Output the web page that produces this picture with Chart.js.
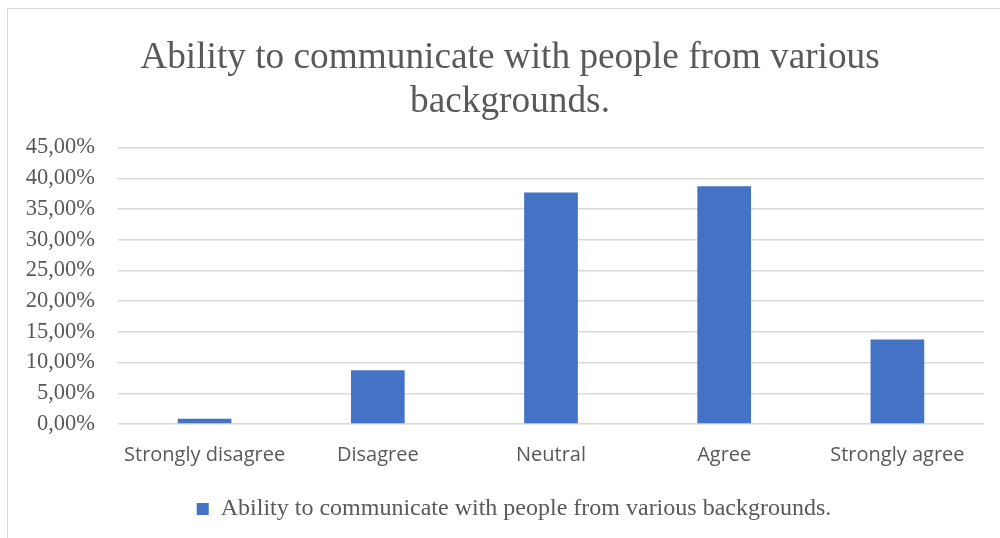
<!DOCTYPE html>
<html>
<head>
<meta charset="utf-8">
<script src="https://cdn.jsdelivr.net/npm/chart.js@4.4.1/dist/chart.umd.min.js"></script>
<style>
    html, body { margin: 0; padding: 0; background: #fff; overflow: hidden; }
    #frame { position: absolute; left: 7px; top: 8px; width: 1010px; height: 560px; border: 1.5px solid #d9d9d9; box-sizing: border-box; }
    #wrap { position: absolute; left: 0; top: 0; width: 1000px; height: 538px; }
</style>
</head>
<body>
<div id="frame"></div>
<div id="wrap"><canvas id="chart"></canvas></div>
<script>
// ============================================================
// DATA
// ============================================================
const categories = ['Strongly disagree', 'Disagree', 'Neutral', 'Agree', 'Strongly agree'];
const seriesName = 'Ability to communicate with people from various backgrounds.';
const seriesValues = [0.85, 8.75, 37.7, 38.7, 13.75];   // percent
const yTicks = [0, 5, 10, 15, 20, 25, 30, 35, 40, 45];

const serif = '"Liberation Serif", "Times New Roman", serif';
const sans = '"Open Sans", "Noto Sans", sans-serif';
const textColor = '#595959';
const gridColor = '#d9d9d9';

const fmtPct = v => v.toFixed(2).replace('.', ',') + '%';

// title + legend sit centred on the outer frame, not on the canvas
const centerShift = {
    id: 'centerShift',
    afterLayout(chart) {
        chart.titleBlock.left += 16;
        chart.legend.left += 24;
    }
};

new Chart(document.getElementById('chart').getContext('2d'), {
    type: 'bar',
    data: {
        labels: categories,
        datasets: [{
            label: seriesName,
            data: seriesValues,
            backgroundColor: '#4472c4',
            borderColor: '#4472c4',
            borderWidth: 0,
            barPercentage: 0.31,
            categoryPercentage: 1
        }]
    },
    plugins: [centerShift],
    options: {
        responsive: true,
        maintainAspectRatio: false,
        animation: false,
        layout: { padding: { left: 20, right: 16, top: 14, bottom: 7 } },
        plugins: {
            title: {
                display: true,
                text: ['Ability to communicate with people from various', 'backgrounds.'],
                color: textColor,
                font: { family: serif, size: 37.3, weight: 'normal', lineHeight: 1.16 },
                padding: { top: 23, bottom: 24 }
            },
            legend: {
                position: 'bottom',
                labels: {
                    color: textColor,
                    font: { family: serif, size: 24 },
                    boxWidth: 12,
                    boxHeight: 12,
                    padding: 11
                }
            },
            tooltip: { enabled: false }
        },
        scales: {
            y: {
                min: 0,
                max: 45,
                afterBuildTicks: axis => { axis.ticks = yTicks.map(v => ({ value: v })); },
                afterFit: axis => { axis.width = 98; },
                grid: { color: gridColor, lineWidth: 1.5, drawTicks: false },
                border: { display: false },
                ticks: {
                    color: textColor,
                    font: { family: serif, size: 22.5 },
                    padding: 23,
                    autoSkip: false,
                    callback: v => fmtPct(v)
                }
            },
            x: {
                grid: { display: false, drawTicks: false },
                border: { display: false },
                ticks: {
                    color: textColor,
                    font: { family: sans, size: 20 },
                    padding: 19,
                    autoSkip: false,
                    maxRotation: 0
                }
            }
        }
    }
});
</script>
</body>
</html>
